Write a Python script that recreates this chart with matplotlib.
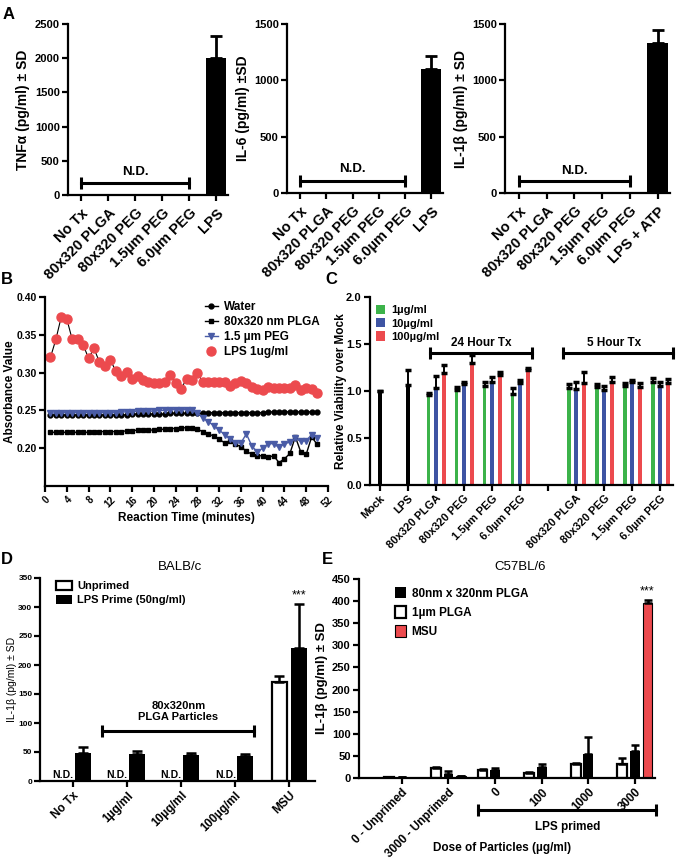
import numpy as np
import matplotlib
matplotlib.use('Agg')
import matplotlib.pyplot as plt
from matplotlib.patches import Patch
from matplotlib.lines import Line2D
import matplotlib.transforms as mtransforms

plt.rcParams['font.family'] = ['Liberation Sans', 'DejaVu Sans']
plt.rcParams['font.weight'] = 'bold'
plt.rcParams['axes.labelweight'] = 'bold'
plt.rcParams['axes.linewidth'] = 1.6
for _a in ('xtick', 'ytick'):
    plt.rcParams[_a + '.major.width'] = 1.6
    plt.rcParams[_a + '.major.size'] = 4
    plt.rcParams[_a + '.major.pad'] = 2
    plt.rcParams[_a + '.direction'] = 'out'

# ---------------- data ----------------
a_categories = ['No Tx', '80x320 PLGA', '80x320 PEG', '1.5µm PEG', '6.0µm PEG', 'LPS']
a3_categories = ['No Tx', '80x320 PLGA', '80x320 PEG', '1.5µm PEG', '6.0µm PEG', 'LPS + ATP']
tnf_value, tnf_sd = 2010, 315
il6_value, il6_sd = 1105, 110
il1b_value, il1b_sd = 1335, 112

b_time = [1, 2, 3, 4, 5, 6, 7, 8, 9, 10, 11, 12, 13, 14, 15, 16, 17, 18, 19, 20, 21, 22, 23, 24, 25,
          26, 27, 28, 29, 30, 31, 32, 33, 34, 35, 36, 37, 38, 39, 40, 41, 42, 43, 44, 45, 46, 47, 48, 49, 50]
b_water = [0.244, 0.244, 0.244, 0.244, 0.244, 0.244, 0.244, 0.244, 0.244, 0.244,
           0.244, 0.244, 0.244, 0.244, 0.244, 0.245, 0.245, 0.245, 0.245, 0.245,
           0.245, 0.245, 0.246, 0.246, 0.246, 0.246, 0.246, 0.246, 0.246, 0.247,
           0.247, 0.247, 0.247, 0.247, 0.247, 0.247, 0.247, 0.247, 0.247, 0.247,
           0.248, 0.248, 0.248, 0.248, 0.248, 0.248, 0.248, 0.248, 0.248, 0.248]
b_plga = [0.221, 0.221, 0.221, 0.221, 0.221, 0.221, 0.221, 0.221, 0.222, 0.222,
          0.222, 0.222, 0.222, 0.222, 0.223, 0.223, 0.224, 0.224, 0.224, 0.224,
          0.225, 0.225, 0.226, 0.226, 0.227, 0.227, 0.227, 0.225, 0.222, 0.219,
          0.216, 0.212, 0.207, 0.209, 0.205, 0.202, 0.196, 0.192, 0.190, 0.190,
          0.188, 0.190, 0.181, 0.186, 0.193, 0.215, 0.195, 0.192, 0.215, 0.205]
b_peg = [0.246, 0.247, 0.247, 0.247, 0.247, 0.247, 0.247, 0.247, 0.247, 0.247,
         0.247, 0.247, 0.247, 0.248, 0.248, 0.248, 0.249, 0.249, 0.249, 0.249,
         0.250, 0.250, 0.251, 0.251, 0.251, 0.251, 0.250, 0.247, 0.240, 0.235,
         0.230, 0.224, 0.218, 0.212, 0.207, 0.207, 0.219, 0.203, 0.195, 0.200,
         0.206, 0.206, 0.201, 0.206, 0.208, 0.213, 0.209, 0.210, 0.218, 0.214]
b_lps = [0.320, 0.344, 0.374, 0.371, 0.344, 0.345, 0.337, 0.319, 0.332, 0.314,
         0.309, 0.317, 0.302, 0.296, 0.301, 0.292, 0.295, 0.290, 0.288, 0.286,
         0.286, 0.288, 0.297, 0.286, 0.278, 0.292, 0.290, 0.299, 0.288, 0.287,
         0.288, 0.288, 0.287, 0.282, 0.286, 0.289, 0.286, 0.281, 0.278, 0.277,
         0.281, 0.280, 0.280, 0.280, 0.279, 0.284, 0.277, 0.279, 0.278, 0.273]
b_xticks = [0, 4, 8, 12, 16, 20, 24, 28, 32, 36, 40, 44, 48, 52]
b_yticks = [0.20, 0.25, 0.30, 0.35, 0.40]
b_labels = ['Water', '80x320 nm PLGA', '1.5 µm PEG', 'LPS 1ug/ml']

c_single = ['Mock', 'LPS']
c_single_values = [1.00, 1.06]
c_single_sd = [0.0, 0.16]
c_groups = ['80x320 PLGA', '80x320 PEG', '1.5µm PEG', '6.0µm PEG']
c_doses = ['1µg/ml', '10µg/ml', '100µg/ml']
c24_values = [[0.96, 1.01, 1.05, 0.97], [1.03, 1.07, 1.10, 1.08], [1.19, 1.30, 1.17, 1.22]]
c24_sd = [[0.02, 0.03, 0.05, 0.06], [0.13, 0.03, 0.05, 0.04], [0.09, 0.08, 0.03, 0.02]]
c5_values = [[1.03, 1.04, 1.05, 1.10], [1.02, 1.01, 1.10, 1.05], [1.08, 1.10, 1.04, 1.08]]
c5_sd = [[0.04, 0.03, 0.04, 0.035], [0.08, 0.04, 0.02, 0.05], [0.12, 0.05, 0.04, 0.045]]

d_categories = ['No Tx', '1µg/ml', '10µg/ml', '100µg/ml', 'MSU']
d_unprimed = [np.nan, np.nan, np.nan, np.nan, 170]
d_unprimed_sd = [np.nan, np.nan, np.nan, np.nan, 11]
d_lps = [49, 46, 44, 43, 230]
d_lps_sd = [10, 5, 5, 3, 75]

e_categories = ['0 - Unprimed', '3000 - Unprimed', '0', '100', '1000', '3000']
e_1um = [2, 22, 17, 11, 31, 31]
e_1um_sd = [0.5, 2, 4, 2, 2, 14]
e_80nm = [2, 9, 17, 24, 55, 61]
e_80nm_sd = [0.5, 6, 5, 7, 38, 14]
e_msu = [np.nan, 4, np.nan, np.nan, np.nan, 395]
e_msu_sd = [np.nan, 0.5, np.nan, np.nan, np.nan, 8]

GREEN, BLUE, RED = '#3cb34a', '#3e54a3', '#ec4a4e'
PEGBLUE = '#4a5ca6'

# ---------------- layout ----------------
W, H = 676, 859
fig = plt.figure(figsize=(W / 100, H / 100), dpi=100)


def add_ax(l, r, t, b):
    ax = fig.add_axes([l / W, 1 - b / H, (r - l) / W, (b - t) / H])
    ax.spines['top'].set_visible(False)
    ax.spines['right'].set_visible(False)
    return ax


def ftext(x, y, s, **kw):
    fig.text(x / W, 1 - y / H, s, **kw)


def bracket(ax, x0, x1, y, lw=2.2, ms=8, transform=None):
    kw = dict(color='black', lw=lw, marker='|', markersize=ms, mew=lw, clip_on=False)
    if transform is not None:
        kw['transform'] = transform
    ax.plot([x0, x1], [y, y], **kw)


# ---------------- Panel A ----------------
def panel_a(ax, cats, val, sd, ymax, ystep, ylabel, by, ny):
    x = np.arange(len(cats))
    ax.bar(x[-1], val, width=0.75, color='black')
    ax.errorbar(x[-1], val, yerr=[[0], [sd]], fmt='none', ecolor='black',
                elinewidth=2, capsize=4.5, capthick=2)
    ax.set_xlim(-0.5, 5.45)
    ax.set_ylim(0, ymax)
    ax.set_yticks(np.arange(0, ymax + 1, ystep))
    ax.tick_params(axis='y', labelsize=8)
    ax.tick_params(axis='x', pad=4)
    ax.set_xticks(x)
    ax.set_xticklabels(cats, rotation=45, ha='right', rotation_mode='anchor', fontsize=10.5)
    ax.set_ylabel(ylabel, fontsize=10, labelpad=3)
    bracket(ax, 0, 4, by, ms=9)
    ax.text(2, ny, 'N.D.', ha='center', va='center', fontsize=9.5)


axA1 = add_ax(68, 228, 24, 195)
panel_a(axA1, a_categories, tnf_value, tnf_sd, 2500, 500, 'TNFα (pg/ml) ± SD', 180, 340)
axA2 = add_ax(287, 443, 24, 193)
panel_a(axA2, a_categories, il6_value, il6_sd, 1500, 500, 'IL-6 (pg/ml) ±SD', 104, 215)
axA3 = add_ax(505, 670, 24, 193)
panel_a(axA3, a3_categories, il1b_value, il1b_sd, 1500, 500, 'IL-1β (pg/ml) ± SD', 103, 192)

# ---------------- Panel B ----------------
axB = add_ax(45, 328, 297, 486)
axB.plot(b_time, b_water, '-o', color='black', ms=3.5, lw=1.0)
axB.plot(b_time, b_plga, '-s', color='black', ms=3.5, lw=1.0)
axB.plot(b_time, b_peg, '-v', color=PEGBLUE, ms=4, lw=1.0)
axB.plot(b_time, b_lps, '-', color='black', lw=0.8)
axB.plot(b_time, b_lps, 'o', color=RED, ms=6.5)
axB.set_xlim(0, 52)
axB.set_ylim(0.15, 0.40)
axB.set_xticks(b_xticks)
axB.set_xticklabels([str(v) for v in b_xticks], rotation=45, ha='right', rotation_mode='anchor', fontsize=7)
axB.set_yticks(b_yticks)
axB.set_yticklabels(['%.2f' % v for v in b_yticks], fontsize=7.5)
axB.set_xlabel('Reaction Time (minutes)', fontsize=8.5, labelpad=2)
axB.set_ylabel('Absorbance Value', fontsize=8.5)
axB.yaxis.set_label_coords((16 - 45) / 283, 0.5)
hB = [Line2D([], [], color='black', marker='o', ms=3.5, lw=1),
      Line2D([], [], color='black', marker='s', ms=3.5, lw=1),
      Line2D([], [], color=PEGBLUE, marker='v', ms=4, lw=1),
      Line2D([], [], color=RED, marker='o', ms=6.5, lw=0)]
axB.legend(hB, b_labels, loc='upper left', bbox_to_anchor=(205 / W, 1 - 301 / H),
           bbox_transform=fig.transFigure, frameon=False, fontsize=8.5,
           handlelength=1.1, handletextpad=0.5, labelspacing=0.25, borderpad=0, borderaxespad=0)

# ---------------- Panel C ----------------
axC = add_ax(370, 673, 297, 485)
cw = 0.14
offs = [-0.27, 0.0, 0.27]
cols = [GREEN, BLUE, RED]
xs_single = [0, 1]
axC.bar(xs_single, c_single_values, width=cw, color='black')
axC.errorbar(xs_single, c_single_values, yerr=[[0, 0], c_single_sd], fmt='none', ecolor='black',
             elinewidth=1.4, capsize=2, capthick=2.5)
g24 = np.array([2, 3, 4, 5])
g5 = np.array([7, 8, 9, 10])
for i in range(3):
    for gx, vals, sds in ((g24, c24_values[i], c24_sd[i]), (g5, c5_values[i], c5_sd[i])):
        xx = gx + offs[i]
        axC.bar(xx, vals, width=cw, color=cols[i])
        axC.errorbar(xx, vals, yerr=[np.zeros(4), sds], fmt='none', ecolor='black',
                     elinewidth=1.4, capsize=2, capthick=2.5)
axC.set_xlim(-0.36, 10.46)
axC.set_ylim(0, 2.0)
axC.set_yticks([0.0, 0.5, 1.0, 1.5, 2.0])
axC.set_yticklabels(['0.0', '0.5', '1.0', '1.5', '2.0'], fontsize=8)
axC.set_xticks(list(range(11)))
axC.set_xticklabels(c_single + c_groups + [''] + c_groups, rotation=45, ha='right',
                    rotation_mode='anchor', fontsize=8)
axC.set_ylabel('Relative Viability over Mock', fontsize=8.5)
axC.yaxis.set_label_coords((347 - 370) / 303, 0.5)
bracket(axC, 1.79, 5.43, 1.40, ms=8)
bracket(axC, 6.54, 10.46, 1.40, ms=8)
axC.text(3.61, 1.45, '24 Hour Tx', ha='center', va='bottom', fontsize=8.5)
axC.text(8.35, 1.45, '5 Hour Tx', ha='center', va='bottom', fontsize=8.5)
hC = [Patch(facecolor=c) for c in cols]
axC.legend(hC, c_doses, loc='upper left', bbox_to_anchor=(376 / W, 1 - 305 / H),
           bbox_transform=fig.transFigure, frameon=False, fontsize=8,
           handlelength=0.8, handleheight=0.9, handletextpad=0.6, labelspacing=0.25,
           borderpad=0, borderaxespad=0)

# ---------------- Panel D ----------------
axD = add_ax(40, 315, 578, 781)
xd = np.arange(len(d_categories))
dw = 0.29
axD.bar(xd - 0.18, d_unprimed, width=dw, facecolor='white', edgecolor='black', linewidth=1.6)
axD.bar(xd + 0.18, d_lps, width=dw, color='black')
axD.errorbar(xd - 0.18, d_unprimed, yerr=[np.zeros(5), d_unprimed_sd], fmt='none', ecolor='black',
             elinewidth=1.8, capsize=3.5, capthick=1.8)
axD.errorbar(xd + 0.18, d_lps, yerr=[np.zeros(5), d_lps_sd], fmt='none', ecolor='black',
             elinewidth=1.8, capsize=3.5, capthick=1.8)
for xi, v in zip(xd, d_unprimed):
    if np.isnan(v):
        axD.text(xi - 0.18, 2, 'N.D.', ha='center', va='bottom', fontsize=7.5)
axD.text(4.18, 310, '***', ha='center', va='bottom', fontsize=9, fontweight='normal')
axD.set_xlim(-0.61, 4.48)
axD.set_ylim(0, 350)
axD.set_yticks(np.arange(0, 351, 50))
axD.tick_params(axis='y', labelsize=6, pad=1.5)
axD.set_xticks(xd)
axD.set_xticklabels(d_categories, rotation=45, ha='right', rotation_mode='anchor', fontsize=8.5)
axD.set_ylabel('IL-1β (pg/ml) ± SD', fontsize=7.5, fontweight='normal')
axD.yaxis.set_label_coords((17 - 40) / 275, 0.5)
bracket(axD, 0.54, 3.35, 86, ms=8)
axD.text(1.95, 120, '80x320nm\nPLGA Particles', ha='center', va='center', fontsize=8, linespacing=1.1)
hD = [Patch(facecolor='white', edgecolor='black', linewidth=1.6), Patch(facecolor='black')]
axD.legend(hD, ['Unprimed', 'LPS Prime (50ng/ml)'], loc='upper left',
           bbox_to_anchor=(56 / W, 1 - 581 / H), bbox_transform=fig.transFigure, frameon=False,
           fontsize=8, handlelength=1.4, handleheight=0.8, handletextpad=0.5, labelspacing=0.35,
           borderpad=0, borderaxespad=0)
ftext(180, 567, 'BALB/c', ha='center', va='center', fontsize=9.5, fontweight='normal')

# ---------------- Panel E ----------------
axE = add_ax(359, 655, 579, 778)
xe = np.arange(len(e_categories))
ew = 0.21
axE.bar(xe - 0.27, e_1um, width=ew, facecolor='white', edgecolor='black', linewidth=1.6)
axE.bar(xe, e_80nm, width=ew, color='black')
axE.bar(xe + 0.27, e_msu, width=ew, facecolor=RED, edgecolor='black', linewidth=0.8)
for off, vals, sds in ((-0.27, e_1um, e_1um_sd), (0, e_80nm, e_80nm_sd), (0.27, e_msu, e_msu_sd)):
    axE.errorbar(xe + off, vals, yerr=[np.zeros(6), sds], fmt='none', ecolor='black',
                 elinewidth=1.8, capsize=3, capthick=1.8)
axE.text(5.27, 408, '***', ha='center', va='bottom', fontsize=9, fontweight='normal')
axE.set_xlim(-0.92, 5.43)
axE.set_ylim(0, 450)
axE.set_yticks(np.arange(0, 451, 50))
axE.tick_params(axis='y', labelsize=8)
axE.set_xticks(xe)
axE.set_xticklabels(e_categories, rotation=45, ha='right', rotation_mode='anchor', fontsize=8.5)
axE.set_ylabel('IL-1β (pg/ml) ± SD', fontsize=9.5, labelpad=3)
trE = mtransforms.blended_transform_factory(axE.transData, axE.transAxes)
bracket(axE, 1.63, 5.45, -0.16, ms=8, transform=trE)
ftext(568, 827, 'LPS primed', ha='center', va='center', fontsize=8.5)
ftext(502, 848, 'Dose of Particles (µg/ml)', ha='center', va='center', fontsize=8.5)
hE = [Patch(facecolor='black'), Patch(facecolor='white', edgecolor='black', linewidth=1.6),
      Patch(facecolor=RED, edgecolor='black', linewidth=0.8)]
axE.legend(hE, ['80nm x 320nm PLGA', '1µm PLGA', 'MSU'], loc='upper left',
           bbox_to_anchor=(395 / W, 1 - 587 / H), bbox_transform=fig.transFigure, frameon=False,
           fontsize=8.5, handlelength=0.9, handleheight=1.1, handletextpad=0.5, labelspacing=0.55,
           borderpad=0, borderaxespad=0)
ftext(520, 567, 'C57BL/6', ha='center', va='center', fontsize=9.5, fontweight='normal')

# ---------------- panel letters ----------------
for s, x, y in (('A', 3, 7), ('B', 1, 272), ('C', 325, 272), ('D', 1, 552), ('E', 322, 552)):
    ftext(x, y, s, ha='left', va='top', fontsize=12, fontweight='bold')

fig.savefig('out.png', dpi=100)
